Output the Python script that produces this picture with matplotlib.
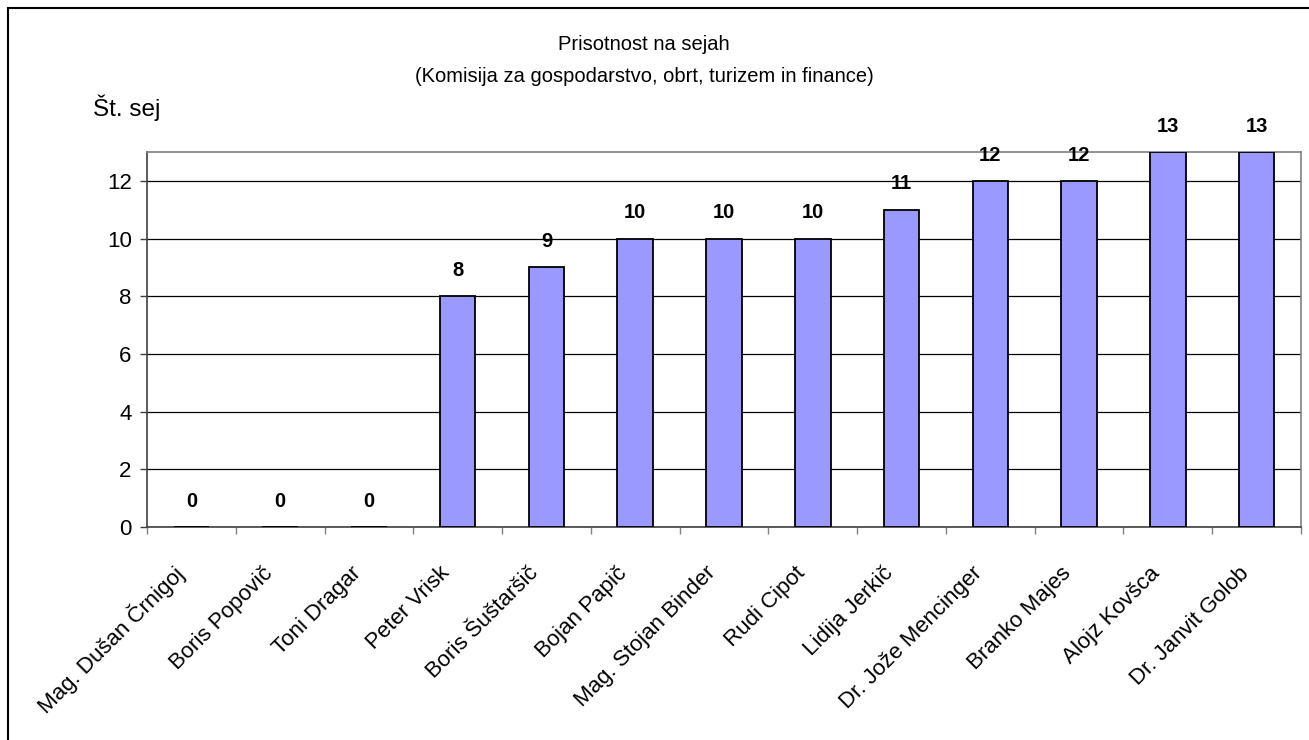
import matplotlib
matplotlib.use("Agg")
import matplotlib.pyplot as plt
from matplotlib.patches import Rectangle
from matplotlib.transforms import ScaledTranslation
import numpy as np

plt.rcParams['font.family'] = ['Liberation Sans', 'DejaVu Sans']

names = ['Mag. Dušan Črnigoj', 'Boris Popovič', 'Toni Dragar', 'Peter Vrisk',
         'Boris Šuštaršič', 'Bojan Papič', 'Mag. Stojan Binder', 'Rudi Cipot',
         'Lidija Jerkič', 'Dr. Jože Mencinger', 'Branko Majes', 'Alojz Kovšca',
         'Dr. Janvit Golob']
sessions = [0, 0, 0, 8, 9, 10, 10, 10, 11, 12, 12, 13, 13]
yticks = [0, 2, 4, 6, 8, 10, 12]

W, H = 1309, 740
fig = plt.figure(figsize=(W / 100, H / 100), dpi=100)
ax = fig.add_axes([147 / W, 1 - 527 / H, (1301 - 147) / W, (527 - 152) / H])

x = np.arange(len(names))
ax.bar(x, sessions, width=0.4, color='#9999FF', edgecolor='black', linewidth=1.3, zorder=3)

for xi, v in zip(x, sessions):
    ax.annotate(str(v), (xi, v), xytext=(0, 18.5), textcoords='offset points',
                ha='center', va='center', fontsize=14.5, fontweight='bold')

ax.set_xlim(-0.5, len(names) - 0.5)
ax.set_ylim(0, 13)
ax.set_yticks(yticks)
ax.tick_params(axis='y', labelsize=16, length=5, width=1, color='#404040', pad=6)
ax.yaxis.grid(True, color='black', linewidth=0.9, zorder=0)

# ticks between categories, labels under bars
ax.set_xticks(np.arange(len(names) + 1) - 0.5)
ax.set_xticklabels([])
ax.tick_params(axis='x', which='major', length=5, width=1, color='#808080')
ax.set_xticks(x, minor=True)
ax.set_xticklabels(names, minor=True, rotation=45, ha='right', va='center',
                   rotation_mode='anchor', fontsize=16)
ax.tick_params(axis='x', which='minor', length=0, pad=31)
shift = ScaledTranslation(-0.11, 0, fig.dpi_scale_trans)
for lbl in ax.get_xticklabels(minor=True):
    lbl.set_transform(lbl.get_transform() + shift)

for s in ax.spines.values():
    s.set_color('#808080')
    s.set_linewidth(1.2)
ax.spines['left'].set_color('#404040')
ax.spines['bottom'].set_color('#404040')

fig.text(644 / W, 1 - 45 / H, 'Prisotnost na sejah', ha='center', va='center', fontsize=14.5)
fig.text(644 / W, 1 - 77 / H, '(Komisija za gospodarstvo, obrt, turizem in finance)',
         ha='center', va='center', fontsize=14.5)
fig.text(93 / W, 1 - 108 / H, 'Št. sej', ha='left', va='center', fontsize=17.5)

fig.patches.append(Rectangle((8 / W, -0.1), 1.2, 1.1 - 8 / H, transform=fig.transFigure,
                             fill=False, edgecolor='black', linewidth=1.5))

fig.savefig('out.png', dpi=100)
